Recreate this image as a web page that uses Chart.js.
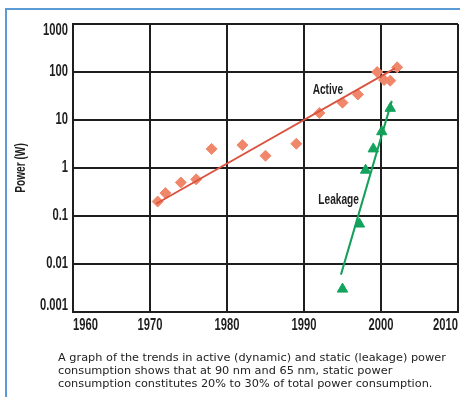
<!DOCTYPE html>
<html>
<head>
<meta charset="utf-8">
<script src="https://cdn.jsdelivr.net/npm/chart.js@4/dist/chart.umd.min.js"></script>
<style>
  html, body { margin: 0; padding: 0; background: #fff; }
  #wrap { position: relative; width: 460px; height: 397px; overflow: hidden; }
  #frame { position: absolute; left: 5px; top: 8px; right: 0; bottom: 0;
           border-top: 2px solid #5b9bd5; border-left: 2px solid #5b9bd5; }
  #c { position: absolute; left: 0; top: 0; }
  #caption { position: absolute; left: 58px; top: 351px; font: 11.3px "DejaVu Sans", sans-serif;
             line-height: 13px; color: #222; white-space: nowrap; }
</style>
</head>
<body>
<div id="wrap">
  <div id="frame"></div>
  <canvas id="c" width="460" height="397"></canvas>
  <div id="caption">A graph of the trends in active (dynamic) and static (leakage) power<br>consumption shows that at 90 nm and 65 nm, static power<br>consumption constitutes 20% to 30% of total power consumption.</div>
</div>
<script>
// Measured power, active (dynamic) and static (leakage)
const activeYears  = [1971, 1972, 1974, 1976, 1978, 1982, 1985, 1989, 1992, 1995, 1997, 1999.5, 2000.4, 2001.2, 2002.1];
const activePower  = [0.2, 0.3, 0.5, 0.58, 2.5, 3, 1.8, 3.2, 14, 23, 34, 100, 68, 66, 125];
const leakageYears = [1995, 1997.2, 1998, 1999, 2000.1, 2001.2];
const leakagePower = [0.003, 0.068, 0.9, 2.5, 5.7, 17.5];

// Trend lines (end points)
const activeTrendYears  = [1970.8, 2001.8];
const activeTrendPower  = [0.18, 119];
const leakageTrendYears = [1994.8, 2001.4];
const leakageTrendPower = [0.006, 25];

// Axes
const xTickValues = [1960, 1970, 1980, 1990, 2000, 2010];
const xTickLabels = ['1960', '1970', '1980', '1990', '2000', '2010'];
const yTickValues = [0.001, 0.01, 0.1, 1, 10, 100, 1000];
const yTickLabels = ['0.001', '0.01', '0.1', '1', '10', '100', '1000'];

const BOLD_FAMILY = '"Liberation Sans", Arial, sans-serif';
const INK = '#1e1e1e';
const SQUEEZE = 0.7;   // horizontal squeeze for the condensed heading type

const toPoints = (xs, ys) => xs.map((x, i) => ({ x, y: ys[i] }));

// Run a drawing routine with every fillText squeezed horizontally around its anchor
function squeezed(ctx, draw) {
  const plain = CanvasRenderingContext2D.prototype.fillText;
  ctx.fillText = function (text, x, y) {
    this.save();
    this.translate(x, y);
    this.scale(SQUEEZE, 1);
    plain.call(this, text, 0, 0);
    this.restore();
  };
  try { draw(); } finally { delete ctx.fillText; }
}

// Give an axis condensed labels and title
function condense(scale) {
  if (scale.$condensed) return;
  scale.$condensed = true;
  ['drawLabels', 'drawTitle'].forEach(name => {
    const orig = scale[name];
    scale[name] = function (...args) { squeezed(this.ctx, () => orig.apply(this, args)); };
  });
}

// In-plot series captions, anchored in data coordinates
const seriesCaptions = [
  { text: 'Active',  year: 1993.1, value: 42 },
  { text: 'Leakage', year: 1994.5, value: 0.215 }
];

const captionPlugin = {
  id: 'seriesCaptions',
  afterDatasetsDraw(chart) {
    const { ctx, scales } = chart;
    ctx.save();
    ctx.font = 'bold 14.5px ' + BOLD_FAMILY;
    ctx.fillStyle = INK;
    ctx.textAlign = 'center';
    ctx.textBaseline = 'middle';
    squeezed(ctx, () => {
      seriesCaptions.forEach(c => {
        ctx.fillText(c.text, scales.x.getPixelForValue(c.year), scales.y.getPixelForValue(c.value));
      });
    });
    ctx.restore();
  }
};

new Chart(document.getElementById('c'), {
  type: 'scatter',
  data: {
    datasets: [
      {
        label: 'Active trend',
        data: toPoints(activeTrendYears, activeTrendPower),
        showLine: true, pointRadius: 0, borderColor: '#d9533f', borderWidth: 1.8
      },
      {
        label: 'Leakage trend',
        data: toPoints(leakageTrendYears, leakageTrendPower),
        showLine: true, pointRadius: 0, borderColor: '#14a05a', borderWidth: 2
      },
      {
        label: 'Active',
        data: toPoints(activeYears, activePower),
        pointStyle: 'rectRot', pointRadius: 5.5, backgroundColor: '#f0866a', borderColor: '#f0866a', borderWidth: 1
      },
      {
        label: 'Leakage',
        data: toPoints(leakageYears, leakagePower),
        pointStyle: 'triangle', pointRadius: 6, backgroundColor: '#12a35c', borderColor: '#12a35c', borderWidth: 1
      }
    ]
  },
  options: {
    responsive: false,
    animation: false,
    layout: { autoPadding: false, padding: { top: 24, right: 2, bottom: 59, left: 0 } },
    plugins: { legend: { display: false }, tooltip: { enabled: false } },
    scales: {
      x: {
        type: 'linear',
        min: 1960, max: 2010,
        afterBuildTicks: s => { s.ticks = xTickValues.map(v => ({ value: v })); },
        afterFit: s => { s.height = 26; condense(s); },
        grid: { color: INK, lineWidth: 2, drawTicks: false },
        border: { color: INK, width: 2 },
        ticks: {
          align: 'inner', padding: 0, color: INK,
          font: { family: BOLD_FAMILY, size: 16, weight: 'bold', lineHeight: '28px' },
          callback: (v, i) => xTickLabels[i]
        }
      },
      y: {
        type: 'logarithmic',
        min: 0.001, max: 1000,
        afterBuildTicks: s => { s.ticks = yTickValues.map(v => ({ value: v })); },
        afterFit: s => { s.width = 73; condense(s); },
        grid: { color: INK, lineWidth: 2, drawTicks: false },
        border: { color: INK, width: 2 },
        ticks: {
          padding: 5, color: INK,
          font: { family: BOLD_FAMILY, size: 16, weight: 'bold', lineHeight: '13px' },
          callback: (v, i) => {
            const t = yTickLabels[i];
            if (i === yTickLabels.length - 1) return ['', t];
            if (i === 0) return [t, ''];
            return t;
          }
        },
        title: {
          display: true, text: 'Power (W)', color: INK, padding: { top: 12, bottom: 0 },
          font: { family: BOLD_FAMILY, size: 14.5, weight: 'bold' }
        }
      }
    }
  },
  plugins: [captionPlugin]
});
</script>
</body>
</html>
